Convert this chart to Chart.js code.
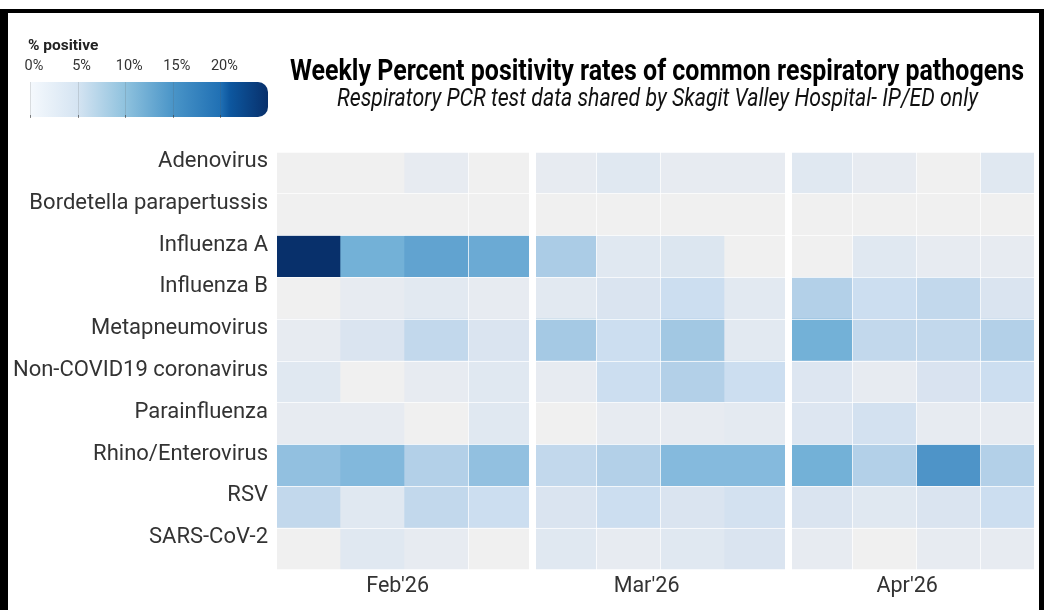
<!DOCTYPE html>
<html lang="en">
<head>
<meta charset="UTF-8">
<title>Weekly Percent positivity rates of common respiratory pathogens</title>
<script src="https://cdn.jsdelivr.net/npm/chart.js"></script>
<style>
  body { margin: 0; background: white; font-family: Roboto, sans-serif; }
  .panel { position: absolute; top: 0; }
  canvas { display: block; }
</style>
</head>
<body>
<div class="panel" style="left:0"><canvas id="facet0" width="1044" height="610"></canvas></div>
<div class="panel" style="left:536px"><canvas id="facet1" width="249" height="610"></canvas></div>
<div class="panel" style="left:792px"><canvas id="facet2" width="242" height="610"></canvas></div>
<script>
const pathogens = ['Adenovirus', 'Bordetella parapertussis', 'Influenza A', 'Influenza B', 'Metapneumovirus',
  'Non-COVID19 coronavirus', 'Parainfluenza', 'Rhino/Enterovirus', 'RSV', 'SARS-CoV-2'];
const months = ["Feb'26", "Mar'26", "Apr'26"];

// % positive, 4 weeks each of Feb, Mar, Apr
const adenovirus   = [0, 0, 1, 0,      1, 2, 1, 1,        2, 1, 0, 2];
const bordetella   = [0, 0, 0, 0,      0, 0, 0, 0,        0, 0, 0, 0];
const influenzaA   = [25, 11, 12.5, 11.7, 6.6, 2, 2.6, 0, 0, 2, 1, 1];
const influenzaB   = [0, 1, 1.7, 1,    1.7, 3, 4, 1.7,    6, 4, 5, 3];
const metapneumo   = [1, 3, 5, 3,      7, 4, 7.2, 1.7,    11, 5, 5, 6];
const coronavirus  = [2, 0, 1, 2,      1, 4, 6, 4,        2.5, 1, 3.1, 4];
const parainfluenza = [1, 1, 0, 2,     0, 1, 1, 1.5,      2.5, 3.5, 1, 1];
const rhinoEntero  = [8.5, 9.5, 6, 8.5, 5, 6, 9.3, 9.3,   11, 6, 14, 6];
const rsv          = [5, 2, 5, 4,      3, 4, 3, 3.5,      3, 2, 3, 4];
const sarsCov2     = [0, 2, 1, 0,      2, 1, 2, 3,        1, 0, 1, 1];
const positivity = [adenovirus, bordetella, influenzaA, influenzaB, metapneumo,
  coronavirus, parainfluenza, rhinoEntero, rsv, sarsCov2];

// month panels, in weeks: visible span, where the month label sits, week break lines
const panelMin = [0.016, 0.0625, 0.0625];
const panelMax = [3.953, 3.953, 3.84];
const monthTickAt = [1.9, 1.79, 1.86];
const weekLines = [[3], [1, 2], [1, 2, 3]];

const legendTicks = [0, 5, 10, 15, 20];
const legendMax = 25;

// fill scale for the tiles
const palette = [[0, '#f0f0f0'], [1, '#e7ebf1'], [2, '#e0e8f1'], [3, '#dae4f0'], [4, '#ccdef0'],
  [5, '#c2d8ec'], [6, '#b3d0e8'], [7, '#a5c9e4'], [8.5, '#92c0e0'], [9.5, '#82b8dc'],
  [11, '#73b1d7'], [12.5, '#61a3d0'], [14, '#4e94c8'], [19, '#2171b5'], [25, '#08306b']];

function hexToRgb(h) {
    return [1, 3, 5].map(i => parseInt(h.slice(i, i + 2), 16));
}

function fillFor(v) {
    for (let i = 1; i < palette.length; i++) {
        if (v <= palette[i][0]) {
            const a = hexToRgb(palette[i - 1][1]);
            const b = hexToRgb(palette[i][1]);
            const t = (v - palette[i - 1][0]) / (palette[i][0] - palette[i - 1][0]);
            const c = a.map((x, k) => Math.round(x + (b[k] - x) * t));
            return `rgb(${c[0]}, ${c[1]}, ${c[2]})`;
        }
    }
    return palette[palette.length - 1][1];
}

// title, subtitle, colour legend and frame
const decorPlugin = {
    id: 'decor',
    afterDraw(chart) {
        const ctx = chart.ctx;
        ctx.save();
        ctx.fillStyle = '#000';
        ctx.fillRect(0, 9, 1044, 4);
        ctx.fillRect(0, 9, 8, 601);
        ctx.fillRect(1039, 9, 5, 601);

        const squeezed = (text, font, cx, y, targetWidth, color) => {
            ctx.font = font;
            const w = ctx.measureText(text).width;
            ctx.save();
            ctx.translate(cx, y);
            ctx.scale(targetWidth / w, 1);
            ctx.fillStyle = color;
            ctx.textAlign = 'center';
            ctx.textBaseline = 'alphabetic';
            ctx.fillText(text, 0, 0);
            ctx.restore();
        };
        squeezed('Weekly Percent positivity rates of common respiratory pathogens', 'bold 29px Roboto', 657, 80, 734, '#000');
        squeezed('Respiratory PCR test data shared by Skagit Valley Hospital- IP/ED only', 'italic 25px Roboto', 657.5, 106, 641, '#111');

        // colour legend
        const lx = 30, lw = 238, ly = 82, lh = 35;
        const px = v => lx + v / legendMax * lw;
        ctx.fillStyle = '#222';
        ctx.font = 'bold 15.5px Roboto';
        ctx.textAlign = 'left';
        ctx.fillText('% positive', 28, 49.5);
        ctx.font = '14.5px Roboto';
        ctx.fillStyle = '#333';
        ctx.textAlign = 'center';
        legendTicks.forEach(t => ctx.fillText(t + '%', px(t) + 4, 70));

        const g = ctx.createLinearGradient(lx, 0, lx + lw, 0);
        g.addColorStop(0, '#f5f9fd');
        g.addColorStop(0.2, '#d5e4f2');
        g.addColorStop(0.4, '#8fc2de');
        g.addColorStop(0.6, '#4a95c8');
        g.addColorStop(0.8, '#2070b4');
        g.addColorStop(0.84, '#0d579f');
        g.addColorStop(1, '#08306b');
        ctx.fillStyle = g;
        ctx.beginPath();
        ctx.roundRect(lx, ly, lw, lh, [0, 10, 10, 0]);
        ctx.fill();
        ctx.strokeStyle = 'rgba(90,90,90,0.18)';
        ctx.lineWidth = 1;
        legendTicks.forEach(t => {
            const x = Math.round(px(t)) + 0.5;
            ctx.beginPath();
            ctx.moveTo(x, ly);
            ctx.lineTo(x, ly + lh);
            ctx.stroke();
            ctx.strokeStyle = 'rgba(60,60,60,0.6)';
            ctx.beginPath();
            ctx.moveTo(x, ly + lh - 2);
            ctx.lineTo(x, ly + lh + 1);
            ctx.stroke();
            ctx.strokeStyle = 'rgba(90,90,90,0.18)';
        });
        ctx.restore();
    }
};

function makeChart(f) {
    const first = f === 0;
    const datasets = [0, 1, 2, 3].map(w => ({
        data: pathogens.map(() => [w, w + 1]),
        backgroundColor: positivity.map(row => fillFor(row[f * 4 + w])),
        xAxisID: 'x',
        grouped: false,
        barPercentage: 1,
        categoryPercentage: 1,
        borderWidth: 0
    }));

    return new Chart(document.getElementById('facet' + f), {
        type: 'bar',
        data: { labels: pathogens, datasets: datasets },
        plugins: first ? [decorPlugin] : [],
        options: {
            indexAxis: 'y',
            responsive: false,
            animation: false,
            layout: { padding: { top: 152, left: 0, bottom: 0, right: first ? 1044 - 529 : 0 } },
            plugins: { legend: { display: false }, tooltip: { enabled: false } },
            scales: {
                x: {
                    type: 'linear',
                    position: 'bottom',
                    min: panelMin[f],
                    max: panelMax[f],
                    afterBuildTicks: s => { s.ticks = [{ value: monthTickAt[f] }]; },
                    afterFit: s => { s.height = 40; },
                    grid: { display: false, drawTicks: false },
                    border: { display: false },
                    ticks: {
                        callback: () => months[f],
                        maxRotation: 0,
                        padding: 4,
                        color: '#333',
                        font: { family: 'Roboto', size: 21.5 }
                    }
                },
                xg: {
                    type: 'linear',
                    axis: 'x',
                    position: 'top',
                    min: panelMin[f],
                    max: panelMax[f],
                    afterBuildTicks: s => { s.ticks = weekLines[f].map(v => ({ value: v })); },
                    afterFit: s => { s.height = 0; },
                    grid: { color: 'rgba(255,255,255,0.75)', lineWidth: 1, drawTicks: false, z: 1 },
                    border: { display: false },
                    ticks: { display: false }
                },
                y: {
                    type: 'category',
                    offset: true,
                    afterFit: s => { s.width = first ? 277 : 0; },
                    grid: { offset: true, color: 'rgba(255,255,255,0.75)', lineWidth: 1, drawTicks: false, z: 1 },
                    border: { display: false },
                    ticks: {
                        display: first,
                        padding: 9,
                        labelOffset: -11.5,
                        color: '#333',
                        font: { family: 'Roboto', size: 22 }
                    }
                }
            }
        }
    });
}

[0, 1, 2].forEach(makeChart);
</script>
</body>
</html>
